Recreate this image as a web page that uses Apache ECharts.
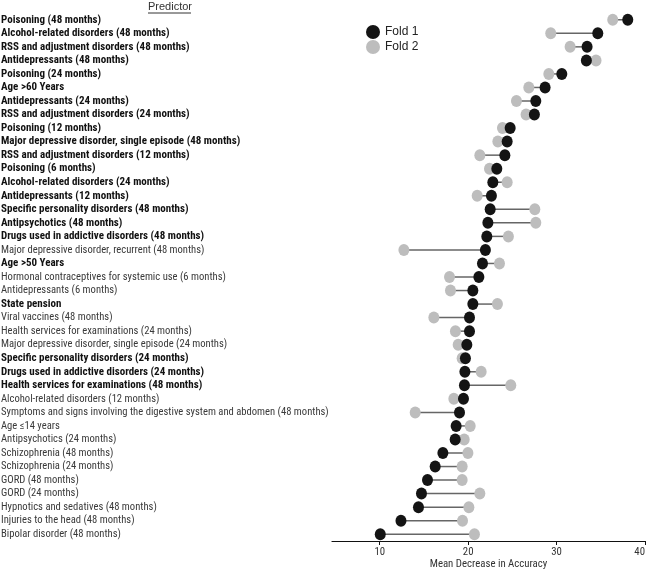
<!DOCTYPE html>
<html><head><meta charset="utf-8">
<script src="https://cdn.jsdelivr.net/npm/echarts@6/dist/echarts.min.js"></script>
<style>html,body{margin:0;padding:0;background:#fff}#c{width:646px;height:571px}</style>
</head><body><div id="c"></div>
<script>
const categories = [
"Poisoning (48 months)","Alcohol-related disorders (48 months)","RSS and adjustment disorders (48 months)","Antidepressants (48 months)","Poisoning (24 months)","Age >60 Years","Antidepressants (24 months)","RSS and adjustment disorders (24 months)","Poisoning (12 months)","Major depressive disorder, single episode (48 months)","RSS and adjustment disorders (12 months)","Poisoning (6 months)","Alcohol-related disorders (24 months)","Antidepressants (12 months)","Specific personality disorders (48 months)","Antipsychotics (48 months)","Drugs used in addictive disorders (48 months)","Major depressive disorder, recurrent (48 months)","Age >50 Years","Hormonal contraceptives for systemic use (6 months)","Antidepressants (6 months)","State pension","Viral vaccines (48 months)","Health services for examinations (24 months)","Major depressive disorder, single episode (24 months)","Specific personality disorders (24 months)","Drugs used in addictive disorders (24 months)","Health services for examinations (48 months)","Alcohol-related disorders (12 months)","Symptoms and signs involving the digestive system and abdomen (48 months)","Age \u226414 years","Antipsychotics (24 months)","Schizophrenia (48 months)","Schizophrenia (24 months)","GORD (48 months)","GORD (24 months)","Hypnotics and sedatives (48 months)","Injuries to the head (48 months)","Bipolar disorder (48 months)"];
const boldFlags = [1,1,1,1,1,1,1,1,1,1,1,1,1,1,1,1,1,0,1,0,0,1,0,0,0,1,1,1,0,0,0,0,0,0,0,0,0,0,0];
const fold1 = [38.05,34.66,33.45,33.37,30.59,28.70,27.65,27.49,24.75,24.41,24.15,23.24,22.79,22.63,22.49,22.23,22.11,21.95,21.62,21.21,20.53,20.53,20.15,20.15,19.85,19.69,19.63,19.58,19.47,19.02,18.64,18.53,17.14,16.27,15.40,14.72,14.38,12.40,10.06];
const fold2 = [36.35,29.34,31.53,34.46,29.12,26.86,25.46,26.55,23.88,23.36,21.32,22.41,24.41,21.02,27.54,27.65,24.55,12.73,23.54,17.89,18.00,23.31,16.12,18.56,18.87,19.32,21.47,24.82,18.38,14.01,20.23,19.55,19.97,19.32,19.32,21.32,20.08,19.36,20.71];
const xTicks = [10,20,30,40];
const seriesNames = ["Fold 1","Fold 2"];

const narrow = '"Roboto Condensed","Liberation Sans",Arial,sans-serif';
const regular = '"Liberation Sans",Arial,sans-serif';
const chart = echarts.init(document.getElementById('c'), null, {renderer:'canvas'});
const segData = categories.map((c,i)=>[fold1[i], fold2[i], i]);
chart.setOption({
  animation:false,
  backgroundColor:'#fff',
  grid:{left:332, right:1, top:13, bottom:30, containLabel:false, outerBoundsMode:'none'},
  legend:{
    orient:'vertical', left:366, top:25, padding:0, itemWidth:14, itemHeight:14, itemGap:1,
    icon:'circle', data:seriesNames,
    textStyle:{fontFamily:regular, fontSize:12, color:'#222'}
  },
  graphic:[
    {type:'text', left:148, top:1, style:{text:'Predictor', fontFamily:regular, fontSize:11, fill:'#333'}},
    {type:'line', shape:{x1:148, y1:13, x2:191, y2:13}, style:{stroke:'#333', lineWidth:1}}
  ],
  xAxis:{
    type:'value', min:4.6, max:40,
    name:'Mean Decrease in Accuracy', nameLocation:'middle', nameGap:18, nameMoveOverlap:false,
    nameTextStyle:{fontFamily:narrow, fontSize:10.8, color:'#333', verticalAlign:'top'},
    axisLine:{show:true, lineStyle:{color:'#111', width:1.2}},
    axisTick:{show:true, length:4, lineStyle:{color:'#111'}, customValues:xTicks},
    axisLabel:{fontFamily:narrow, fontSize:10.8, color:'#333', margin:6, customValues:xTicks, hideOverlap:false, alignMaxLabel:'right'},
    splitLine:{show:false}
  },
  yAxis:{
    type:'category', inverse:true, data:categories,
    axisLine:{show:false}, axisTick:{show:false}, splitLine:{show:false},
    axisLabel:{
      align:'left', margin:331, interval:0,
      formatter:(v, i)=> (boldFlags[i] ? '{b|' + v + '}' : '{n|' + v + '}'),
      rich:{
        b:{fontFamily:narrow, fontSize:11, fontWeight:'bold', color:'#111'},
        n:{fontFamily:narrow, fontSize:10.6, color:'#3a3a3a'}
      }
    }
  },
  series:[
    {
      type:'custom', name:'seg', data:segData, encode:{x:[0,1], y:2}, z:1,
      renderItem:(params, api)=>{
        const a = api.coord([api.value(0), api.value(2)]);
        const b = api.coord([api.value(1), api.value(2)]);
        return {type:'line', shape:{x1:a[0], y1:a[1], x2:b[0], y2:b[1]}, style:{stroke:'#666', lineWidth:1.5}};
      }
    },
    {type:'scatter', name:'Fold 2', data:fold2.map((v,i)=>[v,i]), symbol:'circle', symbolSize:[11,12], itemStyle:{color:'#bdbdbd', opacity:1}, z:2},
    {type:'scatter', name:'Fold 1', data:fold1.map((v,i)=>[v,i]), symbol:'circle', symbolSize:[11,12], itemStyle:{color:'#141414', opacity:1}, z:3}
  ]
});
</script></body></html>
